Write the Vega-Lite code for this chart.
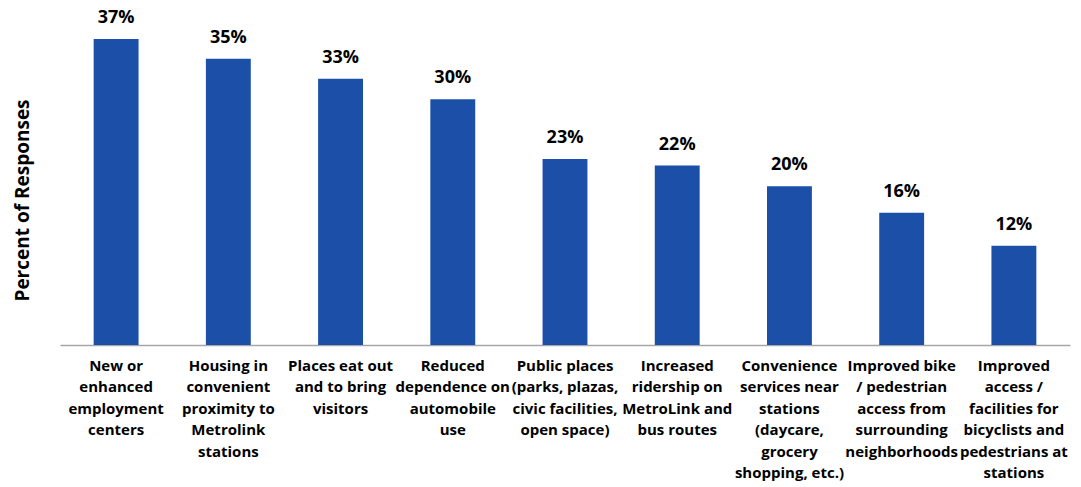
{
  "$schema": "https://vega.github.io/schema/vega-lite/v6.json",
  "width": 1010,
  "height": 306,
  "autosize": {"type": "none"},
  "padding": {"left": 60, "top": 39, "right": 11, "bottom": 142},
  "background": "white",
  "data": {
    "values": [
      {"category": "New or|enhanced|employment|centers", "pct": 37.0, "label": "37%"},
      {"category": "Housing in|convenient|proximity to|Metrolink|stations", "pct": 34.6, "label": "35%"},
      {"category": "Places eat out|and to bring|visitors", "pct": 32.2, "label": "33%"},
      {"category": "Reduced|dependence on|automobile|use", "pct": 29.7, "label": "30%"},
      {"category": "Public places|(parks, plazas,|civic facilities,|open space)", "pct": 22.5, "label": "23%"},
      {"category": "Increased|ridership on|MetroLink and|bus routes", "pct": 21.7, "label": "22%"},
      {"category": "Convenience|services near|stations|(daycare,|grocery|shopping, etc.)", "pct": 19.2, "label": "20%"},
      {"category": "Improved bike|/ pedestrian|access from|surrounding|neighborhoods", "pct": 16.0, "label": "16%"},
      {"category": "Improved|access /|facilities for|bicyclists and|pedestrians at|stations", "pct": 12.0, "label": "12%"}
    ]
  },
  "encoding": {
    "x": {
      "field": "category",
      "type": "nominal",
      "sort": null,
      "scale": {"paddingInner": 0.6, "paddingOuter": 0.3},
      "axis": {
        "title": null,
        "labelAngle": 0,
        "labelExpr": "split(datum.label, '|')",
        "labelFont": "Open Sans",
        "labelFontWeight": "bold",
        "labelFontSize": 15,
        "labelLineHeight": 21.5,
        "labelColor": "#000000",
        "labelPadding": 13,
        "labelBaseline": "top",
        "labelLimit": 200,
        "ticks": false,
        "domainColor": "#a6a6a6",
        "domainWidth": 1.5
      }
    },
    "y": {
      "field": "pct",
      "type": "quantitative",
      "scale": {"domain": [0, 37], "nice": false},
      "axis": {
        "title": "Percent of Responses",
        "titleFont": "Open Sans",
        "titleFontWeight": "bold",
        "titleFontSize": 19,
        "titleColor": "#000000",
        "titleX": -28,
        "titleY": 161,
        "titleAngle": -90,
        "labels": false,
        "ticks": false,
        "domain": false,
        "grid": false
      }
    }
  },
  "layer": [
    {"mark": {"type": "bar", "color": "#1B4FA8"}},
    {
      "mark": {"type": "text", "dy": -21, "baseline": "middle", "font": "Open Sans", "fontWeight": "bold", "fontSize": 18, "color": "#000000"},
      "encoding": {"text": {"field": "label", "type": "nominal"}}
    }
  ],
  "config": {"view": {"stroke": null}}
}
